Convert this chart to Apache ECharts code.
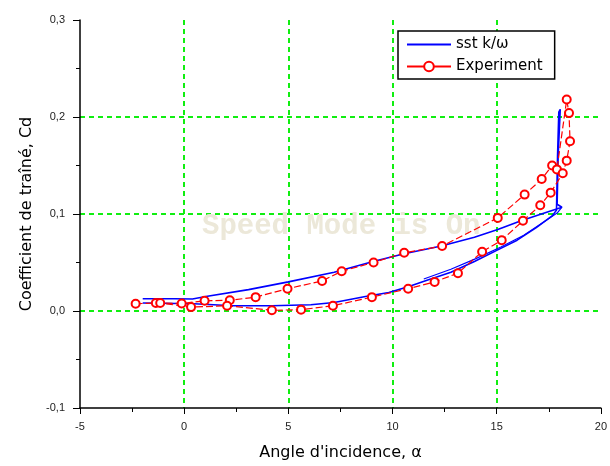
<!DOCTYPE html>
<html>
<head>
<meta charset="utf-8">
<script src="https://cdn.jsdelivr.net/npm/echarts@6/dist/echarts.min.js"></script>
<style>html,body{margin:0;padding:0;background:#fff}#c{width:610px;height:466px}</style>
</head>
<body>
<div id="c"></div>
<script>
// Data
var xTicks = [-5, 0, 5, 10, 15, 20];
var yTicks = [-0.1, 0.0, 0.1, 0.2, 0.3];
var seriesNames = ['sst k/\u03c9', 'Experiment'];

// SST k/omega simulation loop (angle, Cd)
var sstAngle = [-1.99, 0.47, 2.34, 4.21, 6.08, 7.2, 8.7, 9.82, 10.75, 11.69, 12.8, 13.93, 15.05, 15.98, 16.9, 17.66, 17.87, 17.92, 17.98, 18.05, 17.95, 17.9, 18.13, 17.29, 16.17, 15.05, 13.93, 12.34, 10.56, 9.07, 7.2, 5.0, 3.09, 1.04, 0.4, -0.46, -1.99];
var sstCd    = [0.0082, 0.0075, 0.0054, 0.0054, 0.0065, 0.0088, 0.015, 0.019, 0.025, 0.032, 0.040, 0.051, 0.063, 0.073, 0.086, 0.098, 0.104, 0.160, 0.205, 0.208, 0.160, 0.110, 0.107, 0.101, 0.093, 0.084, 0.076, 0.067, 0.059, 0.051, 0.040, 0.030, 0.022, 0.015, 0.0124, 0.0126, 0.0126];
// additional simulated cycle strand
var sst2Angle = [11.5, 12.8, 14.0, 15.2, 16.3, 17.2, 17.9, 18.13];
var sst2Cd    = [0.033, 0.043, 0.054, 0.066, 0.078, 0.091, 0.101, 0.107];

// Experimental points (angle, Cd)
var expAngle = [-2.33, -1.36, -0.12, 0.98, 2.19, 3.43, 4.96, 6.62, 7.56, 9.09, 10.56, 12.38, 15.05, 16.34, 17.16, 17.66, 17.89, 18.36, 18.47, 18.52, 18.36, 18.17, 17.59, 17.09, 16.26, 15.24, 14.30, 13.14, 12.02, 10.75, 9.01, 7.14, 5.61, 4.21, 2.06, 0.33, -1.15];
var expCd    = [0.0075, 0.0082, 0.0078, 0.0105, 0.011, 0.0143, 0.023, 0.031, 0.041, 0.050, 0.060, 0.067, 0.096, 0.120, 0.136, 0.150, 0.146, 0.218, 0.204, 0.175, 0.155, 0.142, 0.122, 0.109, 0.093, 0.073, 0.061, 0.039, 0.030, 0.023, 0.0143, 0.0054, 0.0014, 0.0007, 0.0054, 0.004, 0.0082];

function zip(a, b) { return a.map(function (v, i) { return [v, b[i]]; }); }

var chart = echarts.init(document.getElementById('c'), null, {renderer: 'canvas'});
var font = 'Liberation Sans, Arial, sans-serif';
var titleFont = 'DejaVu Sans, sans-serif';
var gridStyle = {color: '#11ee11', type: [5, 4], width: 2};
chart.setOption({
  animation: false,
  backgroundColor: '#fff',
  grid: {left: 80, right: 9, top: 20, bottom: 58},
  graphic: [{
    type: 'text', left: 202, top: 212, z: 1, silent: true,
    style: {text: 'Speed Mode is On', fill: '#ece8d9', font: 'bold 29px "Liberation Mono", "Courier New", monospace'}
  }],
  legend: {
    data: [
      {name: seriesNames[0], itemStyle: {opacity: 0}},
      {name: seriesNames[1], lineStyle: {type: 'solid'}}
    ],
    orient: 'vertical', left: 398, top: 31,
    itemWidth: 44, itemHeight: 12, itemGap: 7,
    padding: [6, 12, 5, 8],
    borderColor: '#000', borderWidth: 1.5, backgroundColor: '#fff',
    textStyle: {fontFamily: titleFont, fontSize: 15, color: '#000'}
  },
  xAxis: {
    type: 'value', min: xTicks[0], max: xTicks[xTicks.length - 1], interval: 5,
    name: 'Angle d\'incidence, \u03b1', nameLocation: 'middle', nameGap: 37,
    nameTextStyle: {fontFamily: titleFont, fontSize: 16, color: '#000'},
    axisLine: {show: true, onZero: false, lineStyle: {color: '#000', width: 1.5}},
    axisTick: {show: true, length: 6, lineStyle: {color: '#000'}},
    minorTick: {show: true, splitNumber: 2, length: 4, lineStyle: {color: '#000'}},
    axisLabel: {fontFamily: font, fontSize: 11, color: '#222', margin: 13},
    splitLine: {show: true, showMinLine: false, showMaxLine: false, lineStyle: gridStyle}
  },
  yAxis: {
    type: 'value', min: yTicks[0], max: yTicks[yTicks.length - 1], interval: 0.1,
    name: 'Coefficient de tra\u00een\u00e9, Cd', nameLocation: 'middle', nameGap: 45,
    nameTextStyle: {fontFamily: titleFont, fontSize: 16, color: '#000'},
    axisLine: {show: true, onZero: false, lineStyle: {color: '#000', width: 1.5}},
    axisTick: {show: true, length: 7, lineStyle: {color: '#000'}},
    minorTick: {show: true, splitNumber: 2, length: 4, lineStyle: {color: '#000'}},
    axisLabel: {fontFamily: font, fontSize: 11, color: '#222', margin: 15,
      formatter: function (v) { return (Math.round(v * 10) / 10).toFixed(1).replace('.', ','); }},
    splitLine: {show: true, showMinLine: false, showMaxLine: false, lineStyle: gridStyle}
  },
  series: [
    {name: seriesNames[0], type: 'line', data: zip(sstAngle, sstCd), showSymbol: false, symbol: 'none',
     lineStyle: {color: '#0000ff', width: 1.6}, itemStyle: {color: '#0000ff'}, z: 3},
    {name: 'sst2', type: 'line', data: zip(sst2Angle, sst2Cd), showSymbol: false, symbol: 'none',
     lineStyle: {color: '#0000ff', width: 1.2}, itemStyle: {color: '#0000ff'}, z: 3},
    {name: seriesNames[1], type: 'line', data: zip(expAngle, expCd), symbol: 'emptyCircle', symbolSize: 8,
     lineStyle: {color: '#ff0000', width: 1.2, type: [7, 3]}, itemStyle: {color: '#ff0000', borderWidth: 1.3}, z: 4}
  ]
});
</script>
</body>
</html>
